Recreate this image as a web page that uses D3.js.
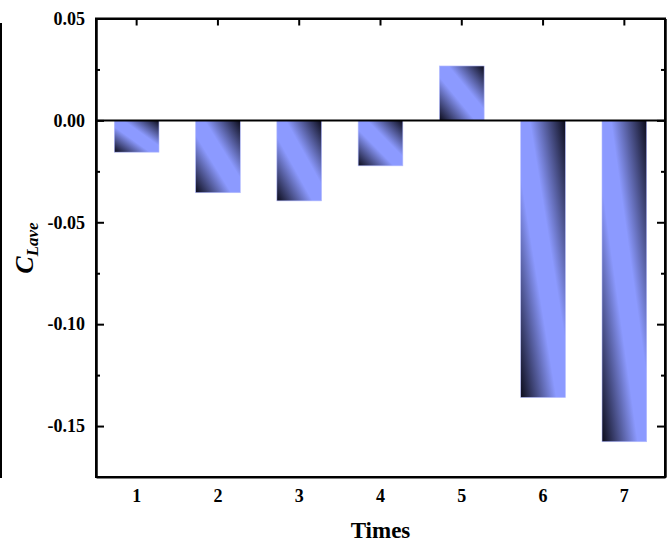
<!DOCTYPE html>
<html lang="en">
<head>
<meta charset="utf-8">
<title>C Lave by times</title>
<script src="https://d3js.org/d3.v7.min.js"></script>
<style>
body{
  margin:0;
  background:#fff;
}
#chart text{
  font-family:"Liberation Serif","Times New Roman",serif;
  font-weight:bold;
  fill:#000;
}
.axis path, .axis line{
  fill:none;
  stroke:#000;
  stroke-width:2;
}
</style>
</head>
<body>
<div id="chart"></div>
<script>
  const categories = ["1","2","3","4","5","6","7"];
  const values = [-0.0156,-0.0355,-0.0395,-0.0223,0.0267,-0.136,-0.1577];
  const yTicks = [0.05,0,-0.05,-0.10,-0.15];
  const yMinor = [0.025,-0.025,-0.075,-0.125];

  var margin = {top:18.5,right:3,bottom:66,left:96};
  var W = 668, H = 543;
  var w = W-margin.left-margin.right,
      h = H-margin.top-margin.bottom;

  var svg = d3.select("#chart")
    .append("svg")
    .attr("width",W)
    .attr("height",H);

  // stray frame edge on the far left of the picture
  svg.append("line")
    .attr("x1",1).attr("x2",1)
    .attr("y1",23).attr("y2",478)
    .attr("stroke","#000").attr("stroke-width",2);

  var defs = svg.append("defs");
  var grad = defs.append("linearGradient")
    .attr("id","barGrad")
    .attr("x1",0).attr("y1",1).attr("x2",1).attr("y2",0);
  grad.append("stop").attr("offset",0).attr("stop-color","#0b0b1a");
  grad.append("stop").attr("offset",0.4).attr("stop-color","#8c9aff");
  grad.append("stop").attr("offset",0.6).attr("stop-color","#8c9aff");
  grad.append("stop").attr("offset",1).attr("stop-color","#0b0b1a");

  var chart = svg.append("g")
    .attr("transform","translate("+margin.left+","+margin.top+")");

  var x = d3.scaleBand().domain(categories).range([0,w])
    .paddingInner(0.45).paddingOuter(0.225);
  var y = d3.scaleLinear().domain([-0.175,0.05]).range([h,0]);

  chart.selectAll("rect.bar")
    .data(values)
    .enter()
    .append("rect")
    .attr("class","bar")
    .attr("x",function(d,i){ return x(categories[i]); })
    .attr("y",function(d){ return y(Math.max(0,d)); })
    .attr("width",x.bandwidth())
    .attr("height",function(d){ return Math.abs(y(d)-y(0)); })
    .attr("fill","url(#barGrad)")
    .attr("stroke","#b4bcff")
    .attr("stroke-width",0.6);

  // zero line
  chart.append("line")
    .attr("x1",0).attr("x2",w)
    .attr("y1",y(0)).attr("y2",y(0))
    .attr("stroke","#000").attr("stroke-width",2);

  var fmt = function(d){ return d.toFixed(2); };

  chart.append("g")
    .attr("class","axis")
    .call(d3.axisLeft(y).tickValues(yTicks).tickFormat(fmt).tickSizeInner(-8).tickSizeOuter(0).tickPadding(11))
    .call(function(g){ g.selectAll("text").style("font-size","18px"); });

  chart.append("g")
    .attr("class","axis")
    .call(d3.axisLeft(y).tickValues(yMinor).tickFormat("").tickSizeInner(-4).tickSizeOuter(0));

  chart.append("g")
    .attr("class","axis")
    .attr("transform","translate("+w+",0)")
    .call(d3.axisRight(y).tickValues(yTicks).tickFormat("").tickSizeInner(-8).tickSizeOuter(0));

  chart.append("g")
    .attr("class","axis")
    .attr("transform","translate("+w+",0)")
    .call(d3.axisRight(y).tickValues(yMinor).tickFormat("").tickSizeInner(-4).tickSizeOuter(0));

  chart.append("g")
    .attr("class","axis")
    .call(d3.axisTop(x).tickFormat("").tickSizeInner(-7).tickSizeOuter(0));

  chart.append("g")
    .attr("class","axis")
    .attr("transform","translate(0,"+h+")")
    .call(d3.axisBottom(x).tickSize(0).tickPadding(12))
    .call(function(g){ g.selectAll("text").style("font-size","18px"); });

  // frame
  chart.append("rect")
    .attr("x",0).attr("y",0)
    .attr("width",w).attr("height",h)
    .attr("fill","none")
    .attr("stroke","#000").attr("stroke-width",2);

  svg.append("text")
    .attr("x",margin.left+w/2)
    .attr("y",538)
    .attr("text-anchor","middle")
    .style("font-size","23px")
    .text("Times");

  var yl = svg.append("text")
    .attr("transform","translate(33,248) rotate(-90)")
    .attr("text-anchor","middle")
    .style("font-style","italic");
  yl.append("tspan").style("font-size","26px").text("C");
  yl.append("tspan").style("font-size","17px").attr("dy",5).text("Lave");
</script>
</body>
</html>
